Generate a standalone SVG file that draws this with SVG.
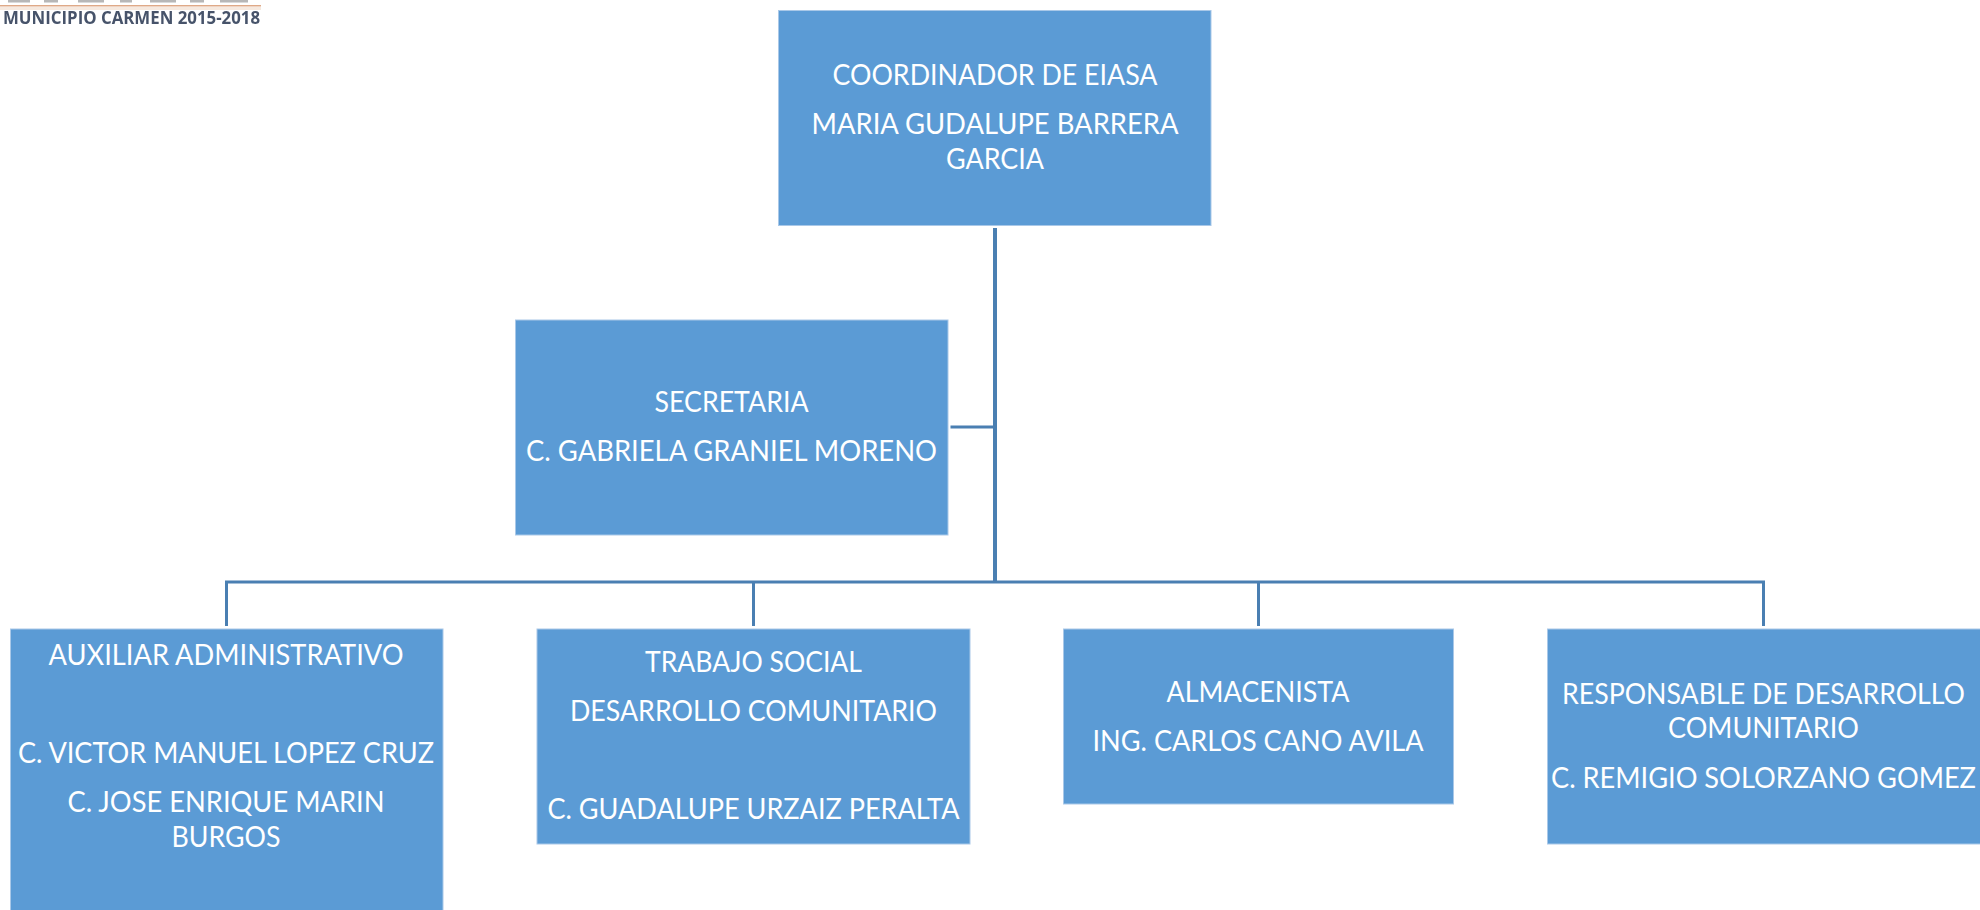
<svg xmlns="http://www.w3.org/2000/svg" width="1980" height="910" viewBox="0 0 1980 910">
<defs><filter id="soft" x="-2%" y="-30%" width="104%" height="160%"><feGaussianBlur stdDeviation="0.7"/></filter></defs>
<style>
.box{fill:#5b9bd5;stroke:#a9c8e8;stroke-width:1}
.t{font-family:"Lato","Carlito","Open Sans",sans-serif;font-size:28px;fill:#fff;text-anchor:middle}
.s{text-anchor:start}
.c{fill:none;stroke:#4a7fb2;stroke-width:3}
.logo{font-family:"Open Sans","Liberation Sans",sans-serif;font-size:17px;font-weight:700;fill:#46536a}
</style>
<rect width="1980" height="910" fill="#fff"/>
<g id="logo" filter="url(#soft)">
<path d="M8 1H30M44 1H58M78 1H104M120 1H132M150 1H176M190 1H204M220 1H248" stroke="#5f5f60" stroke-width="3" opacity="0.45" fill="none"/>
<rect x="0" y="5" width="261" height="1.500" fill="#dfa987"/>
<rect x="0" y="7" width="261" height="3" fill="#f6e9df"/>
<text class="logo" x="3" y="24" textLength="257" lengthAdjust="spacingAndGlyphs">MUNICIPIO CARMEN 2015-2018</text>
</g>
<g id="connectors">
<line class="c" style="stroke-width:4" x1="995" y1="228" x2="995" y2="583"/>
<line class="c" x1="950.500" y1="427" x2="995" y2="427"/>
<path class="c" d="M226.500 626V582H1763.500V626"/>
<line class="c" x1="753.500" y1="582" x2="753.500" y2="626"/>
<line class="c" x1="1258.500" y1="582" x2="1258.500" y2="626"/>
</g>
<g id="coordinador">
<rect class="box" x="778.500" y="10.500" width="432.500" height="215"/>
<text class="t" x="995" y="85" textLength="325" lengthAdjust="spacingAndGlyphs">COORDINADOR DE EIASA</text>
<text class="t" x="995" y="133.500" textLength="367" lengthAdjust="spacingAndGlyphs">MARIA GUDALUPE BARRERA</text>
<text class="t" x="995" y="168.500" textLength="98" lengthAdjust="spacingAndGlyphs">GARCIA</text>
</g>
<g id="secretaria">
<rect class="box" x="515.500" y="320" width="432.500" height="215"/>
<text class="t" x="731.500" y="411.500" textLength="154" lengthAdjust="spacingAndGlyphs">SECRETARIA</text>
<text class="t" x="731.500" y="460.500" textLength="411" lengthAdjust="spacingAndGlyphs">C. GABRIELA GRANIEL MORENO</text>
</g>
<g id="auxiliar">
<rect class="box" x="10.500" y="629" width="432.500" height="285"/>
<text class="t" x="226" y="665" textLength="355" lengthAdjust="spacingAndGlyphs">AUXILIAR ADMINISTRATIVO</text>
<text class="t" x="226" y="762.500" textLength="416" lengthAdjust="spacingAndGlyphs">C. VICTOR MANUEL LOPEZ CRUZ</text>
<text class="t" x="226" y="811.500" textLength="317" lengthAdjust="spacingAndGlyphs">C. JOSE ENRIQUE MARIN</text>
<text class="t" x="226" y="846.500" textLength="109" lengthAdjust="spacingAndGlyphs">BURGOS</text>
</g>
<g id="trabajo-social">
<rect class="box" x="537" y="629" width="433" height="215"/>
<text class="t" x="753.500" y="671.500" textLength="217" lengthAdjust="spacingAndGlyphs">TRABAJO SOCIAL</text>
<text class="t" x="753.500" y="720.500" textLength="367" lengthAdjust="spacingAndGlyphs">DESARROLLO COMUNITARIO</text>
<text class="t" x="753.500" y="819" textLength="412" lengthAdjust="spacingAndGlyphs">C. GUADALUPE URZAIZ PERALTA</text>
</g>
<g id="almacenista">
<rect class="box" x="1063.500" y="629" width="390" height="175"/>
<text class="t" x="1258" y="701.500" textLength="183" lengthAdjust="spacingAndGlyphs">ALMACENISTA</text>
<text class="t" x="1258" y="750.500" textLength="331" lengthAdjust="spacingAndGlyphs">ING. CARLOS CANO AVILA</text>
</g>
<g id="responsable">
<rect class="box" x="1547.500" y="629" width="433" height="215"/>
<text class="t s" x="1562" y="703.500" textLength="403" lengthAdjust="spacingAndGlyphs">RESPONSABLE DE DESARROLLO</text>
<text class="t" x="1763.500" y="737.500" textLength="191" lengthAdjust="spacingAndGlyphs">COMUNITARIO</text>
<text class="t s" x="1551" y="787.500" textLength="425" lengthAdjust="spacingAndGlyphs">C. REMIGIO SOLORZANO GOMEZ</text>
</g>
</svg>
